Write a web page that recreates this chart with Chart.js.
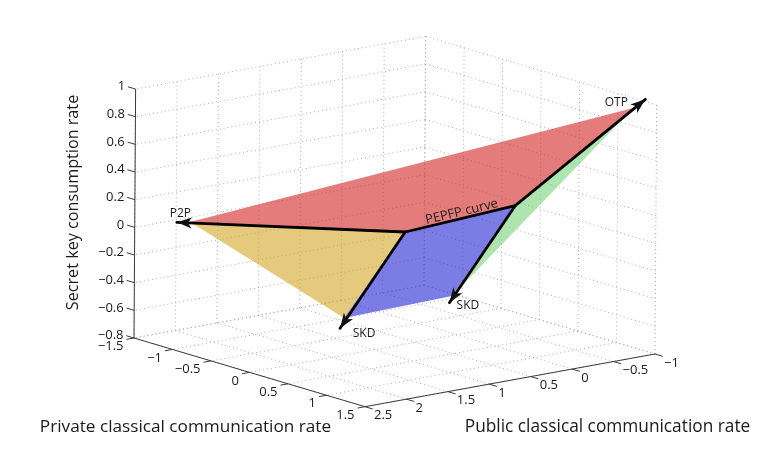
<!DOCTYPE html>
<html><head><meta charset="utf-8">
<style>html,body{margin:0;padding:0;background:#fff}#w{width:768px;height:459px}</style>
<script src="https://cdn.jsdelivr.net/npm/chart.js@4"></script></head>
<body><div id="w"><canvas id="c" width="768" height="459"></canvas></div>
<script>
// --- data: [private, public, key] ---
const privateTicks=[-1.5,-1,-0.5,0,0.5,1,1.5];
const publicTicks=[-1,-0.5,0,0.5,1,1.5,2,2.5];
const keyTicks=[-0.8,-0.6,-0.4,-0.2,0,0.2,0.4,0.6,0.8,1];
const nodeA=[-0.042,0.591,0];
const nodeB=[0.536,-0.198,0.2];
const tipP2P=[-1.43,2.057,0];
const tipOTP=[1.289,-1.06,1];
const tipSKD1=[0.001,1.41,-0.6];
const tipSKD2=[0.969,0.993,-0.3];
const edgeP2P=[-1.372,1.95,0];
const edgeOTP=[1.278,-0.926,0.95];
const edgeSKD1=[-0.071,1.296,-0.55];
const edgeSKD2=[0.913,0.909,-0.27];
const redRegion=[edgeP2P,nodeA,nodeB,edgeOTP];
const yellowRegion=[edgeP2P,nodeA,edgeSKD1];
const blueRegion=[nodeA,nodeB,edgeSKD2,edgeSKD1];
const greenRegion=[nodeB,edgeOTP,edgeSKD2];
const curveLabel='PEPFP curve';
const xTitle='Private classical communication rate';
const yTitle='Public classical communication rate';
const zTitle='Secret key consumption rate';

// orthographic view of the 3-D box onto the page
function proj(p){const a=p[0]+1.5,b=p[1]-2.5,c=p[2]+0.8;
 return {x:134+77*a-82.86*b+0.9*c,y:338+22.9*a+15.06*b-138.3*c};}
const fmt=v=>String(v).replace('-','\u2212');
const xMin=-1.5,xMax=1.5,yMin=-1,yMax=2.5,zMin=-0.8,zMax=1;
const ds=[];
function gridLine(p,q){ds.push({data:[proj(p),proj(q)],borderColor:'#ababab',borderWidth:1,borderDash:[1,3],pointRadius:0,showLine:true,fill:false});}
// floor
privateTicks.forEach(v=>gridLine([v,yMin,zMin],[v,yMax,zMin]));
publicTicks.forEach(v=>gridLine([xMin,v,zMin],[xMax,v,zMin]));
// left wall
publicTicks.forEach(v=>gridLine([xMin,v,zMin],[xMin,v,zMax]));
keyTicks.forEach(v=>gridLine([xMin,yMin,v],[xMin,yMax,v]));
// right wall
privateTicks.forEach(v=>gridLine([v,yMin,zMin],[v,yMin,zMax]));
keyTicks.forEach(v=>gridLine([xMin,yMin,v],[xMax,yMin,v]));
function region(pts,col){const d=pts.map(proj);d.push(d[0]);
 ds.push({data:d,borderColor:'rgba(0,0,0,0)',borderWidth:0,regionColor:col,fill:false,pointRadius:0,showLine:true,tension:0});}
region(redRegion,'rgba(214,50,50,0.64)');
region(yellowRegion,'rgba(214,170,50,0.64)');
region(blueRegion,'rgba(50,50,214,0.64)');
region(greenRegion,'rgba(120,210,120,0.6)');
function axisLine(p,q){ds.push({data:[proj(p),proj(q)],borderColor:'#3a3a3a',borderWidth:1,pointRadius:0,showLine:true});}
axisLine([xMin,yMax,zMin],[xMin,yMax,zMax]);
axisLine([xMin,yMax,zMin],[xMax,yMax,zMin]);
axisLine([xMax,yMax,zMin],[xMax,yMin,zMin]);
// tick marks
keyTicks.forEach(v=>axisLine([xMin,yMax,v],[xMin-0.1,yMax,v]));
privateTicks.forEach(v=>axisLine([v,yMax,zMin],[v,yMax+0.09,zMin]));
publicTicks.forEach(v=>axisLine([xMax,v,zMin],[xMax+0.1,v,zMin]));
function arrow(p,q){ds.push({data:[proj(p),proj(q)],borderColor:'#000',borderWidth:2.8,pointRadius:0,showLine:true,borderCapStyle:'round'});}
arrow(nodeA,nodeB);arrow(nodeA,tipP2P);arrow(nodeA,tipSKD1);arrow(nodeB,tipSKD2);arrow(nodeB,tipOTP);
ds.reverse(); // Chart.js paints the first dataset last

const arrowTips=[[nodeA,tipP2P],[nodeA,tipSKD1],[nodeB,tipSKD2],[nodeB,tipOTP]];
const FONT='"Open Sans"';
const regionFill={id:'regionFill',afterDatasetDraw(ch,args){
 const col=ch.data.datasets[args.index].regionColor;if(!col)return;
 const pts=args.meta.data,c=ch.ctx;
 c.save();c.fillStyle=col;c.beginPath();
 pts.forEach((e,i)=>i?c.lineTo(e.x,e.y):c.moveTo(e.x,e.y));
 c.closePath();c.fill();c.restore();
}};
const overlay={id:'overlay',afterDatasetsDraw(ch){
 const c=ch.ctx,sx=ch.scales.x,sy=ch.scales.y;
 const px=p=>{const q=proj(p);return [sx.getPixelForValue(q.x),sy.getPixelForValue(q.y)];};
 c.save();
 c.fillStyle='#111';
 arrowTips.forEach(([from,to])=>{const a=px(from),b=px(to);const ang=Math.atan2(b[1]-a[1],b[0]-a[0]);
  c.save();c.translate(b[0],b[1]);c.rotate(ang);c.beginPath();c.moveTo(0,0);c.lineTo(-15,-5.5);c.lineTo(-11,0);c.lineTo(-15,5.5);c.closePath();c.fill();c.restore();});
 c.fillStyle='#1a1a1a';c.textBaseline='middle';
 c.font='13px '+FONT;
 c.textAlign='right';
 keyTicks.forEach(v=>{const q=px([xMin,yMax,v]);c.fillText(fmt(v),q[0]-10.5,q[1]-2.5);});
 privateTicks.forEach(v=>{const q=px([v,yMax,zMin]);c.fillText(fmt(v),q[0]-10.5,q[1]+8.5);});
 c.textAlign='left';
 publicTicks.forEach(v=>{const q=px([xMax,v,zMin]);c.fillText(fmt(v),q[0]+9,q[1]+9);});
 c.textAlign='center';
 c.font='12px '+FONT;
 const lab=(t,p,dx,dy)=>{const q=px(p);c.fillText(t,q[0]+dx,q[1]+dy);};
 lab('P2P',tipP2P,3.5,-8.5);lab('OTP',tipOTP,-29,3);lab('SKD',tipSKD1,24,5);lab('SKD',tipSKD2,18.5,2.5);
 const a=px(nodeA),b=px(nodeB);
 c.font='13px '+FONT;
 c.save();c.translate((a[0]+b[0])/2+1.5,(a[1]+b[1])/2-7);c.rotate(Math.atan2(b[1]-a[1],b[0]-a[0]));c.fillText(curveLabel,0,0);c.restore();
 c.font='17.2px '+FONT;c.fillText(xTitle,185.5,427);
 c.font='17.3px '+FONT;c.fillText(yTitle,607.5,427);
 c.font='16.2px '+FONT;
 c.save();c.translate(73,202.5);c.rotate(-Math.PI/2);c.fillText(zTitle,0,0);c.restore();
 c.restore();
}};
new Chart(document.getElementById('c'),{type:'scatter',data:{datasets:ds},plugins:[regionFill,overlay],
 options:{responsive:false,animation:false,devicePixelRatio:1,layout:{padding:0},
 plugins:{legend:{display:false},tooltip:{enabled:false},title:{display:false}},
 elements:{line:{tension:0}},
 scales:{x:{type:'linear',display:false,min:0,max:768,offset:false},y:{type:'linear',display:false,min:0,max:459,reverse:true,offset:false}}}});
</script></body></html>
